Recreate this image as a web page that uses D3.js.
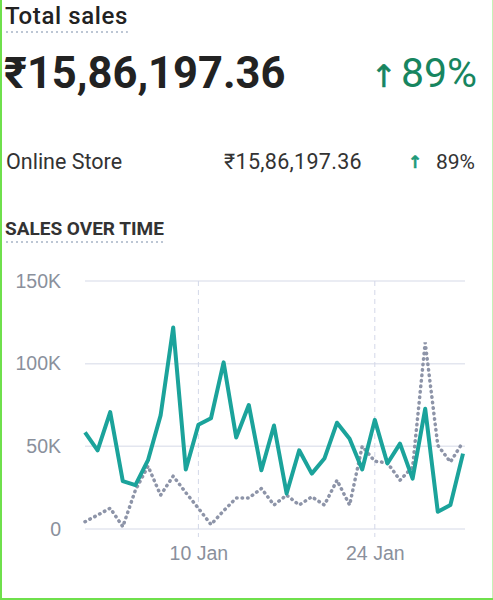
<!DOCTYPE html>
<meta charset="utf-8">
<style type="text/css">

body {
  margin: 0;
  background: #fff;
}

svg {
  font-family: Roboto, "Noto Sans", sans-serif;
  display: block;
}

.grid {
  stroke: #e3e6ef;
  stroke-width: 1.5;
}

.vgrid {
  stroke: #d3d8e8;
  stroke-width: 1;
  stroke-dasharray: 5,4;
}

.tick text {
  fill: #8a909c;
  font-size: 19.5px;
}

.cur {
  fill: none;
  stroke: #1ba39b;
  stroke-width: 4;
  stroke-linejoin: round;
}

.prev {
  fill: none;
  stroke: #8d94a8;
  stroke-width: 3.5;
  stroke-linecap: round;
  stroke-dasharray: 0.5,5;
}

.dotline {
  stroke: #bcc6d4;
  stroke-width: 2;
  stroke-dasharray: 2,3;
}

.arrow {
  font-family: "DejaVu Sans", sans-serif;
}

</style>
<svg width="493" height="600"></svg>
<script src="https://cdn.jsdelivr.net/npm/d3@7"></script>
<script>

var total = "₹15,86,197.36",
    change = "89%",
    storeName = "Online Store";

// daily sales, 1 - 31 Jan
var days = d3.range(1, 32);
var current = [58.4, 47.6, 70.7, 29, 26.5, 41.6, 68.7, 121.9, 36, 63,
               67, 100.8, 55.4, 75, 35.5, 62.6, 21.5, 47.6, 33.5, 42.6,
               64.3, 54.6, 36, 66, 39.6, 51.6, 30.5, 72.7, 10.4, 14.5, 45.6];
var previous = [4.4, 8.4, 12.6, 1.4, 23.5, 38, 20.5, 32, 22, 12.5,
                2.7, 11, 18.7, 18.7, 24.5, 14.5, 20.5, 14.5, 19.5, 14.5,
                29.5, 14.5, 50, 41, 40, 29.5, 37.5, 112.8, 50.6, 40.5, 52.6];
var yTicks = [0, 50, 100, 150];
var xTicks = [10, 24];

var svg = d3.select("svg"),
    width = +svg.attr("width"),
    height = +svg.attr("height");

// frame
svg.append("line").attr("x1", 1).attr("x2", 1).attr("y1", 0).attr("y2", height)
   .attr("stroke", "#6fe04c").attr("stroke-width", 2);
svg.append("line").attr("x1", 492.5).attr("x2", 492.5).attr("y1", 0).attr("y2", height)
   .attr("stroke", "#c6f2b6").attr("stroke-width", 1);
svg.append("line").attr("x1", 0).attr("x2", width).attr("y1", 599).attr("y2", 599)
   .attr("stroke", "#6fe04c").attr("stroke-width", 2);

//HEADER
var t1 = svg.append("text").attr("x", 5).attr("y", 24)
   .attr("font-size", 24).attr("font-weight", 500).attr("fill", "#222")
   .attr("letter-spacing", 0.6)
   .text("Total sales");
var w1 = t1.node().getComputedTextLength();
svg.append("line").attr("class", "dotline")
   .attr("x1", 6).attr("x2", 5 + w1).attr("y1", 32).attr("y2", 32);

svg.append("text").attr("x", 4).attr("y", 88)
   .attr("font-size", 43.5).attr("font-weight", 700).attr("fill", "#222")
   .text(total);

svg.append("text").attr("x", 477).attr("y", 87).attr("text-anchor", "end")
   .attr("font-size", 41).attr("fill", "#17855f")
   .text(change);
svg.append("text").attr("class", "arrow").attr("x", 384).attr("y", 87)
   .attr("text-anchor", "middle")
   .attr("font-size", 31).attr("fill", "#17855f")
   .attr("stroke", "#17855f").attr("stroke-width", 0.6)
   .text("↑");

// store row
svg.append("text").attr("x", 6).attr("y", 169)
   .attr("font-size", 21.5).attr("fill", "#333")
   .text(storeName);
svg.append("text").attr("x", 362).attr("y", 169).attr("text-anchor", "end")
   .attr("font-size", 21.5).attr("fill", "#333").attr("letter-spacing", 0.3)
   .text(total);
svg.append("text").attr("x", 475).attr("y", 169).attr("text-anchor", "end")
   .attr("font-size", 21).attr("fill", "#333")
   .text(change);
svg.append("text").attr("class", "arrow").attr("x", 415).attr("y", 168)
   .attr("text-anchor", "middle")
   .attr("font-size", 17).attr("font-weight", 700).attr("fill", "#1f9a7a")
   .attr("stroke", "#1f9a7a").attr("stroke-width", 0.5)
   .text("↑");

var t2 = svg.append("text").attr("x", 5).attr("y", 235)
   .attr("font-size", 19).attr("font-weight", 700).attr("fill", "#333")
   .text("SALES OVER TIME");
var w2 = t2.node().getComputedTextLength();
svg.append("line").attr("class", "dotline")
   .attr("x1", 6).attr("x2", 5 + w2).attr("y1", 242).attr("y2", 242);

//CHART
var x = d3.scaleLinear().domain([1, 31]).range([85, 463]);
var y = d3.scaleLinear().domain([0, 150]).range([529, 281]);

var g = svg.append("g");

g.selectAll(".grid").data(yTicks).enter().append("line")
  .attr("class", "grid")
  .attr("x1", 85).attr("x2", 465)
  .attr("y1", function(d){ return y(d) })
  .attr("y2", function(d){ return y(d) });

g.selectAll(".vgrid").data(xTicks).enter().append("line")
  .attr("class", "vgrid")
  .attr("x1", function(d){ return x(d) })
  .attr("x2", function(d){ return x(d) })
  .attr("y1", 281).attr("y2", 537);

var yAxis = d3.axisLeft(y).tickValues(yTicks).tickSize(0).tickPadding(0)
  .tickFormat(function(d){ return d == 0 ? "0" : d + "K" });
svg.append("g").attr("transform", "translate(61,0)").call(yAxis)
  .call(function(a){ a.select(".domain").remove() });

var xAxis = d3.axisBottom(x).tickValues(xTicks).tickSize(0).tickPadding(0)
  .tickFormat(function(d){ return d + " Jan" });
svg.append("g").attr("transform", "translate(0,546)").call(xAxis)
  .call(function(a){ a.select(".domain").remove() });

var line = d3.line()
  .x(function(d){ return x(d[0]) })
  .y(function(d){ return y(d[1]) });

g.append("path").attr("class", "prev")
  .attr("d", line(d3.zip(days, previous)));

g.append("path").attr("class", "cur")
  .attr("d", line(d3.zip(days, current)));

</script>
